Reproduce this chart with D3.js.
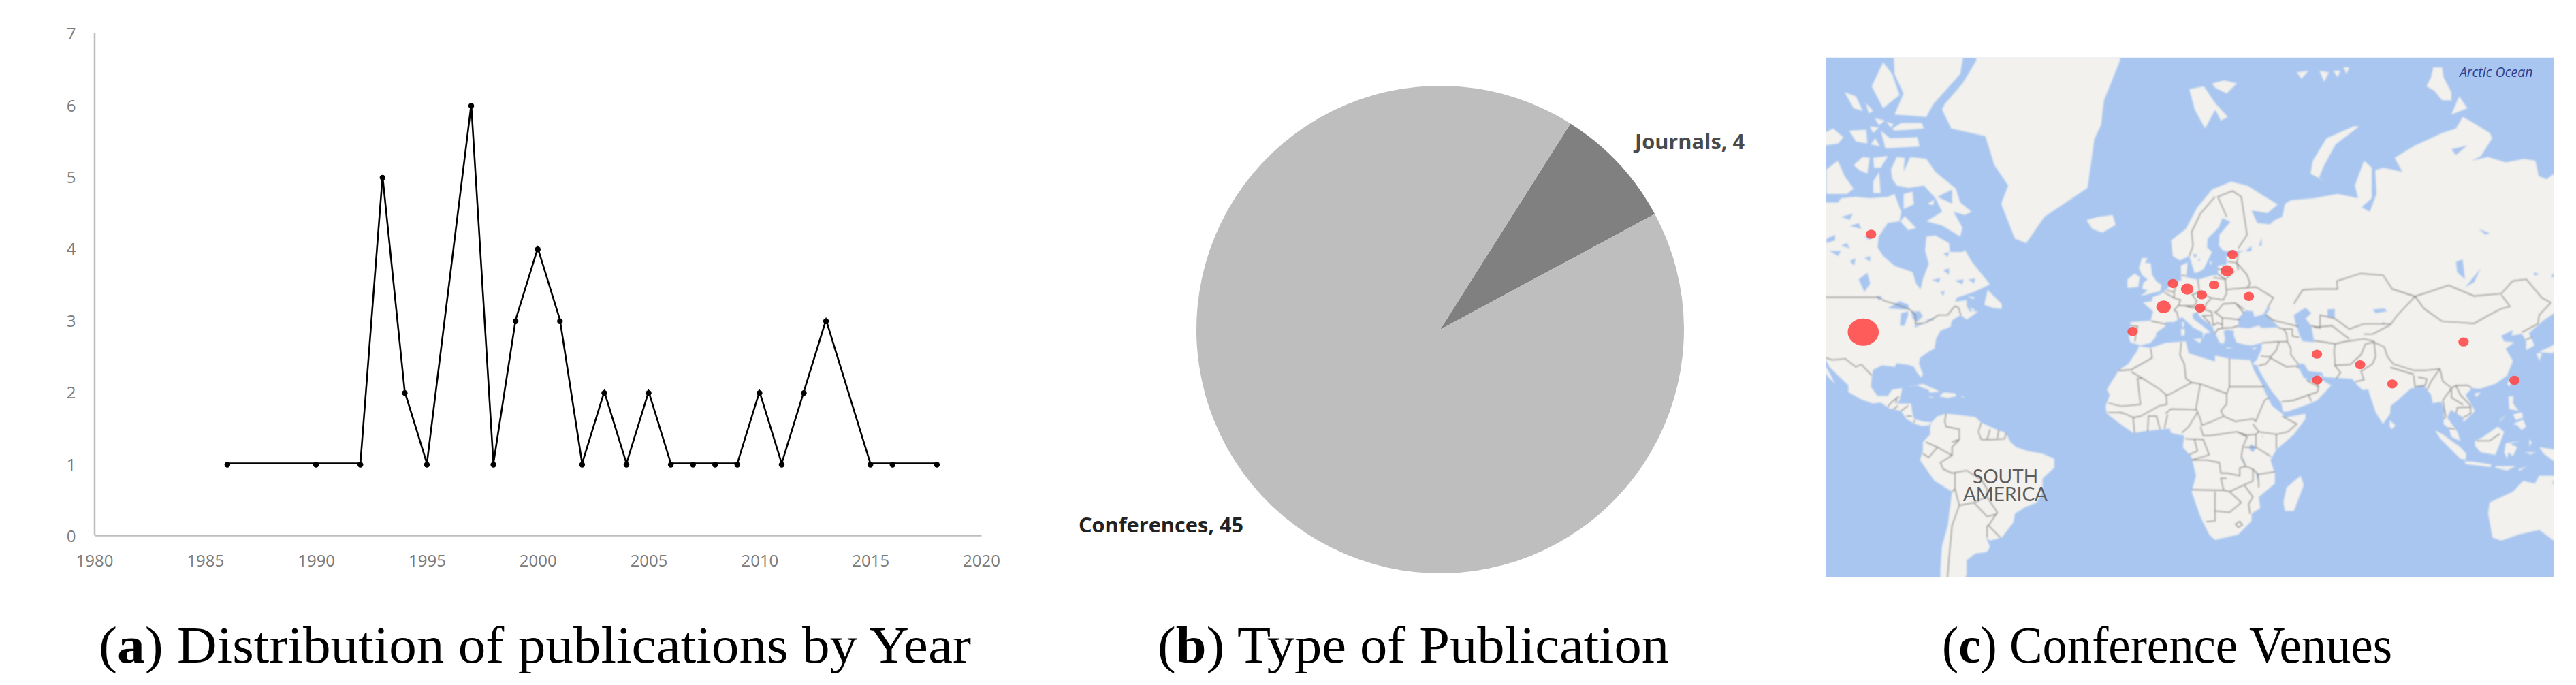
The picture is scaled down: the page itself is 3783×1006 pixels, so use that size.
<!DOCTYPE html>
<html><head><meta charset="utf-8">
<script src="https://cdnjs.cloudflare.com/ajax/libs/d3/7.8.5/d3.min.js"></script>
<style>html,body{margin:0;padding:0;background:#fff}svg{display:block}</style></head>
<body><svg id="c" width="3783" height="1006"></svg>
<script>
// ---------- data ----------
const years=[1986,1990,1992,1993,1994,1995,1997,1998,1999,2000,2001,2002,2003,2004,2005,2006,2007,2008,2009,2010,2011,2012,2013,2015,2016,2018];
const pubs =[1,1,1,5,2,1,6,1,3,4,3,1,2,1,2,1,1,1,1,2,1,2,3,1,1,1];
const xTicks=[1980,1985,1990,1995,2000,2005,2010,2015,2020];
const yTicks=[0,1,2,3,4,5,6,7];
const pubTypes=["Journals","Conferences"];
const pubCounts=[4,45];
const venueLon=[-97.7,-100.4,-8.2,2.4,5.6,10.5,15.5,19.7,14.9,24.1,26,31.6,54.9,69.7,55,80.7,105.1,122.5];
const venueLat=[63.1,40.1,40.3,47.2,53,51.7,50.3,52.7,46.9,55.9,59.3,49.9,33.2,29.7,24.4,23,37.1,24.3];
const venueN  =[2,18,2,4,2,3,2,2,2,3,2,2,2,2,2,2,2,2];
const captions=[["a"," Distribution of publications by Year"],["b"," Type of Publication"],["c"," Conference Venues"]];

const land=[
// North America
[[-140,70],[-128,70],[-115,68.2],[-109,68.2],[-108,68.8],[-103,69],[-98.2,68.8],[-92,69],[-89.7,69.4],[-87.4,66.8],[-88,65.3],[-92,65],[-95.1,62.7],[-95.5,60.7],[-93.6,59],[-89.7,57],[-83.5,55.6],[-82.3,53],[-80.8,51.6],[-80,54],[-78,57.4],[-79.2,60],[-78.8,62.7],[-75.7,62.9],[-71,61.5],[-70.7,59.8],[-66.4,59.8],[-65.6,60.2],[-63.3,57.9],[-60,55.3],[-57,52.8],[-62.5,51],[-68.3,49.6],[-69,48.5],[-65,49],[-65,47.5],[-64,46],[-61,46],[-65,43.7],[-67,45],[-70,43.5],[-70.5,41.7],[-74,40.5],[-75.5,38],[-76,35],[-78,34],[-81,32],[-81.3,30],[-80,26.5],[-80.5,25.2],[-82,27],[-83,29],[-85,29.7],[-89,30.2],[-89.5,29],[-94,29.5],[-97,28],[-97.5,25],[-97.8,22],[-95.5,18.6],[-92,18.6],[-90.5,21],[-87,21.5],[-88,17],[-88.8,15.8],[-84,15.8],[-83.5,12],[-83,10],[-80,9],[-77,8.7],[-78,7.5],[-80.5,7.3],[-83,8.2],[-85.7,10],[-87.5,13],[-91.5,14],[-94.5,16.2],[-97,15.8],[-101,17.3],[-105.5,20],[-105.5,22.5],[-109,26],[-112,29],[-113,31],[-114.7,31.5],[-112,27],[-110,23],[-112,25],[-115,29],[-117,32.5],[-120.5,34.5],[-124,40],[-124.5,48],[-130,54],[-140,60],[-150,60],[-165,62],[-165,68],[-156,71]],
// Canadian Arctic
[[-90.9,72.5],[-88.9,73.9],[-86.2,73.8],[-86.6,72.2],[-84.3,73.9],[-78.8,73.7],[-75.7,72.2],[-68.7,70.1],[-67.2,68.2],[-63.3,66.8],[-65.6,66.3],[-69.5,66.8],[-66.4,64.2],[-67.2,62.7],[-73.4,64.6],[-78.8,65.3],[-73.4,66.8],[-75.7,68.8],[-79.6,70.5],[-85,70.2],[-88.9,70.5],[-90.5,71.4]],
[[-113,72.5],[-109.1,73.5],[-106.8,71.7],[-103.7,70.1],[-106,69.4],[-113,69.4]],
[[-86.6,69.4],[-83.5,69.7],[-83.1,67.9],[-86.6,67.2]],
[[-87.7,65.3],[-86.2,66.1],[-82.3,64.2],[-85,63.8]],
[[-78.4,68],[-76.1,68.6],[-76.5,67.8]],
[[-90.5,84],[-64,84],[-66.4,81.6],[-67.2,80.8],[-76.5,78.7],[-78.8,77.7],[-89.7,77.9],[-86.6,79.5],[-89.7,80.8]],
[[-93.6,81.5],[-97.5,80],[-93.6,78.4],[-88,79.4],[-90.5,80.8]],
[[-90.5,76.7],[-87.4,77.2],[-80.4,77.2],[-79.6,76.7],[-89.7,76.5]],
[[-94.4,76.5],[-91.2,75.8],[-81.9,75.9],[-81.1,75],[-92.8,74.8]],
[[-106.8,79.6],[-102.9,79.3],[-100.6,78.2],[-103.7,78.4]],[[-99.5,78.8],[-97,78.2],[-98.5,78]],[[-96.5,77.6],[-93,77.4],[-95,77]],[[-92.5,77.3],[-90,77.1],[-91,76.8]],
[[-110.7,76.7],[-107.2,75.9],[-109,75.3],[-116,75],[-116,76]],
[[-105.2,76.5],[-99.4,76.6],[-99,75.3],[-102.9,75.5]],[[-98.2,76.9],[-95,76.8],[-97,76.3]],[[-97.8,75.2],[-96.3,75.8],[-94.7,75]],
[[-103.7,73],[-100.6,73.9],[-98.2,73.8],[-99,72],[-101.7,72.4]],
[[-97,73.8],[-92,74],[-94.4,72.7],[-96.7,72.7]],
[[-97,71],[-95,72.2],[-94.4,69.5],[-97,69.5]],
[[-59,47.7],[-57.8,51.5],[-53,48],[-53,46.7],[-56,46.9]],[[-64.5,50],[-62,49.6],[-63,49.2]],[[-64,47],[-62,46.4],[-63,46]],
[[-85,22],[-80,23],[-75,20.7],[-74.2,20.2],[-77.7,19.9],[-78,20.8],[-82,22.5]],[[-74.4,18.5],[-72.8,20],[-69,19.6],[-68.4,18.6],[-71.5,17.8]],[[-78.3,18.4],[-76.3,18.2],[-77,17.8]],[[-67.2,18.5],[-65.7,18.4],[-66,18]],
// Greenland
[[-21.3,75.7],[-19,77],[-18,79],[-12.5,81.6],[-12,84],[-61.7,84],[-61.7,81.6],[-66.4,80.2],[-72.6,78.7],[-73.4,78.3],[-70.3,76.7],[-58.6,76],[-55.5,73],[-50.8,70.5],[-53.2,68],[-48.5,62.3],[-44.6,61.5],[-38.4,66],[-23.6,70.2]],
// South America
[[-77,8.7],[-75,11],[-72,12],[-68,11.5],[-62,10.7],[-60,8.5],[-55,6],[-51.5,4.5],[-50,1],[-48,-1],[-44,-2.5],[-39,-3.5],[-35,-5.5],[-35,-9],[-39,-13],[-39,-18],[-41,-22],[-45,-23.7],[-48.5,-26],[-49,-29],[-53,-34],[-57,-35],[-58.3,-34],[-57,-37],[-58,-38.5],[-62,-39],[-65,-41],[-65,-45],[-66,-47],[-69,-52],[-74,-50],[-74,-44],[-73.5,-37],[-71.5,-30],[-70,-18],[-76,-14],[-81,-6],[-80,-2.5],[-80,1],[-77.5,4],[-77.5,7]],
// Africa
[[-6,35.8],[-2,35.2],[3,36.8],[10,37.3],[11,33.5],[15,32.3],[20,30.8],[20,32.8],[25,31.7],[32,31.3],[32.5,30],[33.5,27.5],[36,23],[37.2,20],[39.5,15],[43,12],[44,10.5],[51,12],[51,10],[47,4],[41,-2],[39,-6],[40.5,-11],[40.5,-15],[35,-20],[35.5,-24],[32.5,-26],[32.5,-28.5],[28,-33],[20,-34.8],[18,-33],[15,-27],[12,-18],[13.5,-12],[12,-5],[9,-1],[9.5,3.5],[5,4.5],[4.5,6.3],[-4,5.2],[-8,4.5],[-13,8.5],[-17,12],[-17.5,14.7],[-16,19],[-17,21],[-13,27.7],[-9.7,30],[-6.8,34]],
[[49.3,-12],[50.4,-15.5],[47,-25],[44,-25],[43.4,-22],[44.5,-16.5]],
// Eurasia
[[-9,43],[-2,43.4],[-1.2,46],[-4.7,48.4],[-1.5,48.7],[-1.5,49.7],[1.5,50.5],[4,52],[5,53.3],[8.5,53.7],[8.3,57],[10.6,57.7],[10.3,55.5],[10,54.5],[12,54.2],[14.2,53.9],[18.5,54.8],[21,55],[21,57],[24,57.2],[24,59],[28,59.6],[30,60],[23,60],[21.3,61],[21.5,63],[25.3,65.2],[22.5,65.8],[21.3,64.3],[17.5,62.3],[17.3,60.7],[19,59.8],[16.7,57],[16,56.2],[14.3,55.6],[13,55.4],[12.5,56.5],[11.2,59],[8,58.1],[5.5,59],[5,62],[10,64],[14,67.5],[19,70],[25.5,71],[31,70.5],[35.6,69.4],[41.5,67.9],[38,66.6],[32.5,67],[34.5,65],[38.8,64.8],[40.5,65.5],[43,66],[44,68],[46,68.5],[54,68.8],[62,69.4],[69,68.8],[67.9,70.5],[71,73.5],[73.7,72.7],[73.7,68.8],[70.2,67.5],[73,66.8],[75.3,69.4],[74.9,72.4],[77.6,72.7],[84.2,72.2],[81.5,73.8],[88.5,75.1],[97.8,76.3],[102.5,76.7],[104.8,77.7],[107.1,77.4],[114.1,76.3],[114.9,75.8],[111,74],[107.9,73.5],[113.4,73.9],[119.6,73.3],[125.8,73.7],[129.7,73.5],[130.8,71.7],[133.5,71.3],[136.1,72],[140,72.7],[160,70],[180,69],[180,65],[170,60],[163,60],[163,56],[157,51],[155.5,57],[162,61.5],[155,59.5],[143,59.3],[135,54.7],[141,53],[138,46.5],[132,43.2],[127.5,39.8],[129.4,36],[126.5,34.5],[126.5,37.5],[125,39.6],[121.5,39],[122,40.7],[118,39],[119,37.3],[122.5,37],[119.5,35],[122,31],[120,26],[116,23],[110.5,21.2],[108,21.5],[105.8,19],[109,13],[106.7,10.5],[105,8.7],[105,10.5],[102,12.5],[100.8,13.5],[99.5,10.5],[103,5],[104,1.4],[101,3],[100,6.5],[98.2,8],[98.5,13],[97.5,16.5],[94.5,16],[94,19],[91.5,22.5],[89,21.8],[87,21.3],[82.5,17],[80.2,15],[80,12],[77.5,8],[75,12.5],[73,19],[72.5,21],[70.5,20.8],[69,22.3],[67,24.8],[61.5,25.2],[57.2,25.5],[56.7,27],[52,27.5],[50.5,30],[48,30],[49,28],[50.5,25],[51.5,25],[51.3,24],[54,24.2],[56.3,26.2],[56.5,24.5],[59.8,22.5],[55,17],[52,15.6],[45,12.8],[43.3,12.7],[42.7,16],[39,21],[35,28],[34.5,29.5],[32.8,30],[34.3,31.3],[36,35],[36,36.8],[32.5,36],[30,36.3],[27.3,37],[26.3,39.5],[26.5,40.5],[24,40.8],[23,40.4],[23.5,38],[23,36.5],[21.5,37],[19.5,41],[19,42],[15.5,44],[13.7,45.7],[12.3,45.3],[12.5,44],[16,41.8],[18.5,40],[16.5,39.7],[16,38],[15.8,40],[12.5,41.5],[10.5,43],[8.8,44.4],[6,43],[3.2,43],[3,41.8],[0,40],[-0.2,38.7],[-2,36.8],[-5.5,36],[-9,37],[-9.5,38.7],[-8.8,42]],
[[-5.5,50],[1.3,51.2],[1.7,52.7],[0,53.5],[-1.5,55],[-2,57.5],[-4,57.6],[-3,58.6],[-5,58.6],[-6,56.5],[-4.8,54.8],[-3,54],[-4.5,53.2],[-5,51.8],[-3,51.4]],[[-10,52],[-6.3,52.2],[-5.7,54.5],[-7.5,55.3],[-10,54]],[[-24,65.5],[-22,64],[-18.5,63.4],[-14,64.7],[-15,66.3],[-20,66]],
// Arctic islands of Eurasia
[[11.2,79.8],[16.2,80],[20.1,78.8],[24.4,77.7],[22,77.4],[20.1,78.3],[16.6,76.7],[13.1,78.3]],[[19,80.2],[23.2,80.4],[27.5,80.2],[24,79.5],[20.1,79.9]],
[[67.5,76.9],[69.4,76.9],[61.3,75.2],[57.4,73],[55.5,71.4],[57.4,71.1],[52.7,72],[53.5,73.5],[58.2,75.8]],
[[60.5,81],[62.9,81],[62,80.6]],[[64,81.2],[66,81.2],[65,80.8]],[[48,80.9],[52,81],[49.6,80.5]],[[55.8,81],[59,80.9],[57.4,80.3]],
[[94.7,81.2],[97.8,81.2],[98.2,80.6],[100.9,79.6],[100.9,79],[97.8,79],[95.1,79.7],[92.4,80],[94,80.6]],[[103.6,79.3],[106.4,78.4],[100.9,77.9]],
[[12.5,38],[15.5,38.2],[15,36.7]],[[8.3,41],[9.7,41],[9.5,39],[8.5,39]],[[8.7,43],[9.5,43],[9.3,41.5],[8.8,41.6]],[[23.6,35.5],[26.3,35.2],[24.5,35]],[[32.5,35],[34.5,35.6],[33.5,34.7]],[[18.2,57.9],[19,57.9],[18.5,57]],
[[79.8,9.5],[81.8,7.5],[80.5,6],[79.8,7]],[[121,25],[122,25],[120.8,22],[120,23]],[[108.8,19.5],[111,20],[109.5,18.2]],
[[120.5,18.5],[122.2,18.5],[122,16],[124,13],[120.7,13.8]],[[122,8],[125.5,9.7],[126.5,7],[125,5.7],[123.5,7.5]],[[122,11.7],[125,12.5],[125.5,10.5],[123,9.5]],[[118,10],[119.5,11.3],[117.3,8.5]],
[[95.3,5.6],[98,4],[104,-1],[106,-3.5],[105.8,-5.9],[104,-5.5],[100,-1],[97,2.5]],[[105.2,-6.5],[108.5,-6.6],[114.5,-7.7],[114.5,-8.7],[106,-7.6]],[[109,1.5],[111.5,2.8],[116.8,7],[119,5],[117.7,1],[116,-4],[111,-3],[109,-0.5]],[[119.5,0.5],[125,1.5],[121,0.3],[123.5,-1],[122,-4.5],[120.5,-3],[120,-5.5],[119,-3]],[[131,-1],[141,-2.7],[147,-6],[150.5,-10.5],[143,-9],[138,-8],[132.5,-3.5]],[[124,-9.5],[127,-8.4],[124,-10.2]],[[116,-8.4],[123,-8.3],[120,-10],[116,-9]],[[127.5,2],[128.5,1],[127.7,-0.8]],[[126,-3],[130,-3],[128,-3.8]],
[[114,-22],[122,-18],[125.5,-14],[129.5,-15],[131,-12],[136.7,-12],[135.5,-15],[140,-17.5],[142.5,-11],[146,-19],[153,-26],[150,-37],[146,-39],[141,-38],[136,-35],[131,-31.5],[124,-33],[118,-35],[115,-34],[113.5,-26]],
[[130.9,34],[135,35.7],[139.5,38.5],[141.4,41.3],[142,39.5],[140.8,35.7],[137,34.6],[135.5,33.5],[132,33.8]],[[130,33.5],[132,33.5],[131,31]],[[140,43],[141.7,45.5],[145.5,43.5],[143,42]],[[142,54],[143.5,52],[143,47],[142,46.5],[142,50]]
];
const water=[
[[28,41.5],[28,44],[30.5,46.3],[33,46],[33.5,44.5],[36.5,45.2],[38,47],[39,47],[37.5,45],[41.5,42],[41.5,41.5],[36,41.3],[35,42],[31.5,41.2]],
[[47,45],[51,47],[53,45.5],[51,44],[53,42],[54,37],[50,37.3],[49,39],[47.5,43]],
[[58.5,46.5],[61,46.7],[61,44],[58.5,44.5]],[[74,46.5],[78,46.8],[79,46],[75,45.5]],[[78,43],[76.5,42.5],[78,42.2]],
[[111,56.5],[108.7,53.3],[105.6,52.1],[107.9,54]],[[102.5,57.8],[104.8,58.3],[105.6,54],[102.9,55.6]],[[110.2,64],[114.1,63.3],[112.6,63]],[[100.9,74.7],[106.4,75.1],[102.5,74.1]],[[129,55.6],[131,55.2],[129.5,54.8]],
[[30.5,60],[32.5,61],[32.5,60],[31,59.9]],[[35,61],[36,62.5],[36,61]],[[12.5,59.5],[14,59.2],[13,58.5]],[[14.5,58.6],[15,58],[14.2,58]],
[[-92,46.8],[-88,48.7],[-85,47.8],[-84.6,46.6],[-87,46.5]],[[-87.8,42],[-87.5,45.5],[-85,46],[-85,45],[-86.3,42]],[[-84,46],[-81,46],[-80,44.6],[-82,43],[-83.5,44]],[[-83,42],[-79,42.9],[-80,42.5],[-82.5,41.5]],[[-79.7,43.3],[-76.3,44.2],[-76.3,43.5]],
[[-102,54],[-99,55.5],[-98,53],[-100,51]],[[-96,50],[-94,50],[-95,48.8]],[[-112,60],[-108,60],[-109,59]],[[-105,58],[-103,58.6],[-103.5,57]],[[-113,62.3],[-110,63],[-110,62],[-113,61.5]],[[-105,64.5],[-102,65],[-101,64]],[[-100,62.6],[-97.5,63],[-98,62]],[[-108,66],[-104,66.5],[-105,65.5]],[[-108,61],[-106,61.5],[-105,60.5]],[[-100,58.6],[-98,59],[-98,57.8]],
[[-73,56],[-71,56.5],[-71,55]],[[-75,69],[-70,70],[-70,68]],[[-74,51],[-72.5,51.3],[-73,50]],[[-69,53.7],[-66,54],[-66.5,52.8]],[[-77,53.8],[-74,54.3],[-74.5,53.3]],[[-64.5,54],[-62,54.2],[-62.5,53]],[[-73,59.5],[-71,59.8],[-71.5,58.8]],
[[33,0],[34,-1.5],[33,-3],[31.8,-2],[32,0]],[[29.2,-4],[30.5,-7],[31,-8.7],[29.8,-6]],[[34,-10],[34.8,-12],[34.5,-14],[34.2,-12]],[[36.5,3],[36,4.5],[36.3,2.5]]
];
const borders=[
[[-123,49.7],[-95.2,49.7],[-93,48.7],[-89.5,48],[-84.5,46.5],[-82.5,45],[-82.5,42.5],[-79,42.8],[-76.5,44],[-74.7,45],[-71.5,45],[-70,46.5],[-69,47.4],[-67.8,47],[-67,45]],
[[-117,32.5],[-114.7,32.5],[-111,31.3],[-106.5,31.7],[-103,29],[-101,29.8],[-97.5,26]],
[[-92,14.6],[-91,16],[-89,17.8],[-88.2,18.4]],[[-89,17.8],[-89.2,15.9]],[[-90,13.7],[-88.5,15]],[[-87.5,13],[-85,15]],[[-85.7,11],[-83.7,11]],[[-83,8.5],[-82.8,9.6]],
[[-72,12],[-72.5,9],[-72,7],[-67.5,6],[-67.5,2],[-70,1]],[[-60,8.5],[-61,5]],[[-61,5],[-60,2],[-56,2],[-52,2.3],[-51.5,4.5]],[[-57,6],[-58,2]],[[-54,5.8],[-54.5,2.5]],
[[-67.5,2],[-70,-1],[-70,-4.2],[-74,-7],[-73,-9.5],[-70,-11],[-65,-10],[-60,-13.5],[-58,-17],[-58,-20],[-54.5,-25.5],[-57.5,-30],[-53.5,-34]],
[[-80,-3.5],[-78,-5],[-75,-1],[-79,1]],[[-75,-1],[-70,-4.2]],[[-69,-11],[-69,-17],[-70,-18]],[[-69,-17],[-67.5,-23],[-62.5,-22],[-58,-20]],[[-67.5,-23],[-70,-30],[-71,-40],[-72,-50],[-69,-52]],[[-62.5,-22],[-58,-27],[-54.5,-26]],[[-58,-34],[-58,-30.2],[-57.5,-30]],
[[-2,35],[-1.5,32],[-8.7,28],[-13,27.7]],[[-8.7,27.3],[-4.8,25],[-6.5,25],[-5.5,15.5],[-12,14.8],[-16.5,16]],[[-4.8,25],[1.2,21],[3.3,19],[4,19],[12,23.5]],[[8.5,37],[8,33],[9.5,30],[10,25],[12,23.5]],[[12,23.5],[15,23],[24,19.5]],[[25,31.7],[25,22]],[[25,22],[37,22]],[[25,22],[24,19.5],[24,15.7]],[[15,23],[13.5,14],[15,10],[15.5,7.5],[19,9],[23,11],[22,13],[24,15.7]],[[23,11],[27,9],[33,10],[34,9],[35,12],[37,17],[38.5,18]],[[33,8],[35,5],[41,4],[45,5],[48,8],[43,11]],[[27.5,5],[31,3.7],[34,4],[35,5]],[[15,7],[16,3.5],[18.5,3.5],[27.5,5]],[[3.3,19],[3.5,15.5],[1,15],[-5.5,11],[-8,10.5]],[[3,12],[5,13.8],[13.5,13.5]],[[2.7,6.3],[3.8,11.7]],[[8.7,4.6],[11,7],[14,12.5]],[[-3,5],[-2.8,11],[0,11],[1.2,6]],[[-7.5,4.4],[-8,10.5]],[[-13,12.5],[-11,12],[-8,10.5]],[[-16.7,12.4],[-11.5,12.4]],[[9.8,2.3],[16,2],[18,-4],[12,-6]],[[13,2],[14,-2.5],[11,-4]],
[[27.5,5],[31,3],[29.5,-1],[29,-5],[30.5,-8.5],[28.5,-9],[28.5,-12],[24,-11],[22,-11],[21.5,-7],[17,-6],[12.3,-6]],[[12,-17.3],[23,-17.5],[22,-13],[24,-13]],[[20,-18],[20,-28.5],[17,-28.7]],[[25,-18],[29,-22],[25,-25.5],[20,-25]],[[23,-17.5],[25,-18],[30,-15.5],[33,-14],[33,-9.5],[30.5,-8.5]],[[34,-1],[37.5,-3.5],[39.2,-4.7]],[[34,4],[34,-1],[30,-1]],[[41,-1.7],[41,4]],[[34.8,-11.5],[40.5,-10.5]],[[33,-9.5],[34.8,-11.5],[35,-16.5]],[[30,-15.5],[33,-20],[31.5,-22.5],[32,-26]],[[27,-29.6],[28.5,-28.6],[29.4,-29.8],[28,-30.6],[27,-29.6]],
[[-1.8,43.3],[3.2,42.4]],[[-8.8,42],[-6.5,41.8],[-7,39.5],[-7.4,37.2]],[[2.5,51],[6,49.5],[8.2,49],[7.5,47.6],[6,46.3],[7,45.8],[7.5,43.8]],[[3.4,51.4],[6,51],[6,49.5]],[[7,53.3],[6,51]],[[8.6,54.9],[9.9,54.8]],[[14.2,53.9],[14.7,51],[12.2,50.3],[13.8,48.7],[13,47.5],[9.6,47.5],[7.5,47.6]],[[14.7,51],[18.8,49.5],[22.8,49],[24,50.7],[23.5,54],[19.5,54.4]],[[21,56.3],[26.5,55.7],[23.5,54],[21,55.2]],[[24.3,57.9],[27.5,57.6],[28,56]],[[27.5,57.6],[31,55],[32,53],[31,52],[34,52.2],[40,49.6],[38,47]],[[24,51.6],[31,52]],[[28,59.5],[27.5,57.6]],[[28,60.5],[31,63],[29,69],[26,69.8],[21,69],[24,66]],[[20,69],[15,66.5],[12,63.5],[12.5,61],[11.2,59]],[[9.6,47.5],[12,47],[16.5,46.8],[17,48],[18.8,49.5]],[[22.8,48],[21,46.2],[20,45.8],[22.5,44.2],[22.5,41.2]],[[22.8,48],[27,48.2],[29.9,45.5]],[[27,48.2],[30,46.5]],[[22.5,44.2],[28.5,43.7]],[[22.9,41.3],[26,41.4],[28,42]],[[20,39.7],[21,41],[22.9,41.3]],[[19.4,42],[20.8,42.8],[22.5,42.3]],[[13.7,45.5],[16.5,46.5],[19,45.8],[19,44.9],[15.8,44.8],[18.5,42.5]],[[19,44.9],[19.3,43],[19.4,42]],
[[36,36.8],[42,37.2],[44.8,37.2]],[[44.8,37.2],[44.5,39.7],[43.5,41],[41.5,41.5]],[[37.5,45],[40,43.5],[44,42.7],[48.5,41.8]],[[43.5,41],[46.5,41],[46.5,38.9],[48.8,38.5]],[[44.8,37.2],[46,35],[46,33],[48.5,30]],[[42,37.2],[41,34.5],[39,32.3],[36.5,32.5],[35.7,32.7]],[[34.9,29.4],[37.5,30],[39,32],[44.5,29],[48,29.3],[48.5,28.5]],[[42.8,16.5],[47,17],[52,19],[55,20],[55.5,22],[51.5,24.2]],[[52,19],[53,16.7]],[[55,22],[56,24.5]],
[[61.5,25],[63,27],[61,29.5],[61,31.5],[60.8,34.5],[61.2,36.5]],[[54,37.5],[61.2,36.5]],[[61,29.5],[66.3,29.8],[70,33],[71.5,36.5],[74.5,37]],[[61.2,36.5],[65,37.3],[71,38],[74.5,37.3]],[[53,42],[56,41.3],[56,45],[61,44],[66,41],[71,42.5],[80,42.5]],
[[47,48],[50,51.5],[54.3,51.7],[62,51.7],[61.7,53.6],[69.8,55.3],[77.6,54.9],[80.7,51.7],[88.5,49.9]],[[88.5,49.9],[82.5,45],[80,42.2]],[[54,41.5],[60,42],[66,38]],
[[88.5,49.9],[100,52.6],[108.7,50],[118,50.6],[121.9,53.6],[126.6,54],[132,49.5],[135,48.3],[131,45],[130.5,42.5]],
[[88.5,49.9],[91.6,46.7],[97.8,43.2],[104,42.9],[108.7,42.6],[113.4,44.8],[118,46.7],[121,47.3],[118,50.3]],
[[130.5,42.5],[125,40]],[[126.5,37.8],[128.5,38.6]],[[74,39.5],[80,42.2]],[[71,39.5],[74,39.5]],
[[74.5,37],[78,35.5],[79,32.5],[81,30],[88,27.8],[92,27.8],[97,28.3],[98,24],[101,21.5],[102.5,22.4],[106.5,22.5],[108,21.5]],[[74.5,37],[75,32.5],[74,30],[70,27.5],[71,24.5],[68,23.8]],[[80,28.8],[88,26.4]],[[88,26],[88.5,22],[92,22.5],[92.5,24.8],[89.5,25.5]],[[97,28.3],[94,24],[92.7,21]],[[101,21.5],[98,17],[99,11],[98.5,10]],[[102.5,22.4],[104,19],[107.5,15],[107.5,12],[105,10.5]],[[101,21],[101,18],[105,15.3]],[[102.5,12],[103,14.3],[107.5,14.5]],[[100,6.5],[102,6]],[[109.5,1.5],[114,1.5],[117.5,4.2]],[[141,-2.7],[141,-9]]
];

// ---------- panel a ----------
const svg=d3.select("#c");
const x=d3.scaleLinear().domain([1980,2020]).range([138.5,1441]);
const y=d3.scaleLinear().domain([0,7]).range([786,48]);
const tickFont="'Open Sans', sans-serif";
const gx=svg.append("g").attr("transform","translate(0,786)").call(d3.axisBottom(x).tickValues(xTicks).tickSize(0).tickPadding(29).tickFormat(d3.format("d")));
const gy=svg.append("g").attr("transform","translate(138.5,0)").call(d3.axisLeft(y).tickValues(yTicks).tickSize(0).tickPadding(27).tickFormat(d3.format("d")));
[gx,gy].forEach(g=>{g.selectAll("path").attr("stroke","#bdbdbd").attr("stroke-width",2.5);
 g.selectAll("text").attr("fill","#7b7b7b").attr("font-family",tickFont).attr("font-size",24);});
gy.selectAll("text").attr("dy","0.4em");
const pts=years.map((d,i)=>[d,pubs[i]]);
svg.append("path").datum(pts).attr("fill","none").attr("stroke","#000").attr("stroke-width",2.6)
 .attr("d",d3.line().x(d=>x(d[0])).y(d=>y(d[1])));
svg.append("g").selectAll("circle").data(pts).join("circle").attr("cx",d=>x(d[0])).attr("cy",d=>y(d[1])+2).attr("r",4.2).attr("fill","#000");

// ---------- panel b ----------
const pieG=svg.append("g").attr("transform","translate(2115,484)");
const a0=32.3*Math.PI/180;
const pie=d3.pie().sort(null).value(d=>d).startAngle(a0).endAngle(a0+2*Math.PI);
const arc=d3.arc().innerRadius(0).outerRadius(358);
pieG.selectAll("path").data(pie(pubCounts)).join("path").attr("d",arc).attr("fill",(d,i)=>["#808080","#bebebe"][i]);
const pieLabelX=[2401,1584],pieLabelY=[206.5,770],pieLabelW=[161,242];
svg.append("g").selectAll("text").data(pubTypes).join("text")
 .attr("x",(d,i)=>pieLabelX[i]).attr("y",(d,i)=>pieLabelY[i]).attr("dominant-baseline","central")
 .attr("textLength",(d,i)=>pieLabelW[i]).attr("lengthAdjust","spacingAndGlyphs")
 .attr("font-family","'Open Sans',sans-serif").attr("font-weight",700).attr("font-size",31).attr("fill",(d,i)=>["#4a4a4a","#222"][i])
 .text((d,i)=>`${d}, ${pubCounts[i]}`);

// ---------- panel c ----------
const xMap=d3.scaleLinear().domain([0,1]).range([3167,3167+4.29]);
const yMap=d3.scaleLinear().domain([0,1]).range([653,653-216]);
const merc=lat=>Math.log(Math.tan(Math.PI/4+lat*Math.PI/360));
const proj=d3.geoTransform({point(lon,lat){this.stream.point(xMap(lon),yMap(merc(lat)));}});
const geo=d3.geoPath(proj);
const cp=svg.append("defs");
cp.append("clipPath").attr("id","mapClip").append("rect").attr("x",2682).attr("y",84.5).attr("width",1069).attr("height",762.5);
cp.append("filter").attr("id","soft").append("feGaussianBlur").attr("stdDeviation",0.8);
const m=svg.append("g").attr("clip-path","url(#mapClip)");
m.append("rect").attr("x",2682).attr("y",84.5).attr("width",1069).attr("height",762.5).attr("fill","#a9c6f0");
const base=m.append("g").attr("filter","url(#soft)");
base.append("path").datum({type:"MultiPolygon",coordinates:land.map(r=>[r.concat([r[0]])])}).attr("d",geo).attr("fill","#f2f1ed").attr("stroke-linejoin","round");
base.append("path").datum({type:"MultiPolygon",coordinates:water.map(r=>[r.concat([r[0]])])}).attr("d",geo).attr("fill","#a9c6f0");
base.append("path").datum({type:"MultiLineString",coordinates:borders}).attr("d",geo).attr("fill","none").attr("stroke","#7f7f7f").attr("stroke-width",1.4);
const rScale=d3.scaleSqrt().domain([0,18]).range([0,21.5]);
m.append("g").selectAll("ellipse").data(venueN).join("ellipse")
 .attr("cx",(d,i)=>xMap(venueLon[i])).attr("cy",(d,i)=>yMap(merc(venueLat[i])))
 .attr("rx",d=>rScale(d)*1.06).attr("ry",d=>rScale(d)*0.93).attr("fill","#ff4545").attr("fill-opacity",0.87);
m.append("text").attr("x",3665.7).attr("y",105).attr("text-anchor","middle").attr("dominant-baseline","central")
 .attr("font-family","'Open Sans',sans-serif").attr("font-style","italic").attr("font-size",19.5).attr("fill","#2b3f91").text("Arctic Ocean");
const sa=["SOUTH","AMERICA"],saY=[699,725];
m.append("g").selectAll("text").data(sa).join("text").attr("x",2945).attr("y",(d,i)=>saY[i]).attr("text-anchor","middle").attr("dominant-baseline","central")
 .attr("font-family","Lato,sans-serif").attr("font-size",28).attr("fill","#5c5c5c").text(d=>d);

// ---------- captions ----------
const capX=[145,1700,2852],capW=[1281,751,661];
captions.forEach((c,i)=>{
 const t=svg.append("text").attr("x",capX[i]).attr("y",973).attr("font-family","'Liberation Serif',serif").attr("font-size",76).attr("fill","#000")
  .attr("textLength",capW[i]).attr("lengthAdjust","spacingAndGlyphs");
 t.append("tspan").text("(");
 t.append("tspan").attr("font-weight",700).text(c[0]);
 t.append("tspan").text(")"+c[1]);
});
</script></body></html>
